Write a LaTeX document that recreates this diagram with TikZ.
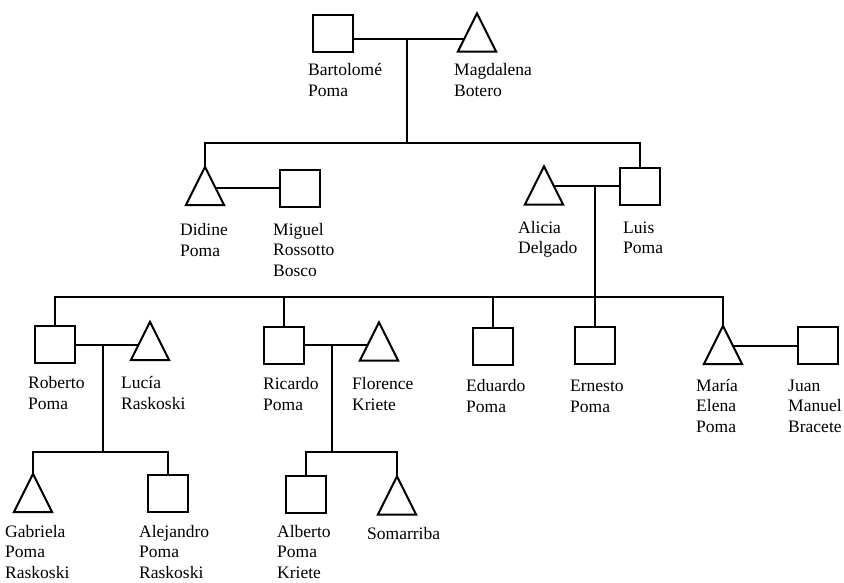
\documentclass[tikz,border=0pt]{standalone}
\usepackage{fontspec}
\setmainfont{Liberation Serif}
\usetikzlibrary{calc}

\tikzset{
  tie/.style={line width=2pt},
  male/.style={tie, draw, fill=white, minimum width=40pt, minimum height=37pt, inner sep=0pt},
  fem/.style={minimum width=38pt, minimum height=38pt, inner sep=0pt},
  % labels are placed by the baseline of their last line
  who/.style={anchor=base west, align=left, inner sep=0pt, font=\fontsize{17.5}{20.5}\selectfont}
}

\begin{document}
\begin{tikzpicture}[x=1pt,y=-1pt]
  \useasboundingbox (0,0) rectangle (844,583);
  % first generation
  \node[male] (bart) at (333,33.5) {};
  \node[fem] (mag) at (477,32.5) {};
  \node[who] (bart-t) at (308,96.5) {Bartolomé\\Poma};
  \node[who] (mag-t) at (454,96.5) {Magdalena\\Botero};
  % second generation
  \node[fem] (did) at (205,186) {};
  \node[male] (mig) at (300,188.5) {};
  \node[fem] (ali) at (544,185.5) {};
  \node[male] (luis) at (640,186.5) {};
  \node[who] (did-t) at (180,256) {Didine\\Poma};
  \node[who] (mig-t) at (273,276) {Miguel\\Rossotto\\Bosco};
  \node[who] (ali-t) at (518,254) {Alicia\\Delgado};
  \node[who] (luis-t) at (623,254) {Luis\\Poma};
  % third generation
  \node[male] (rob) at (55,344.5) {};
  \node[fem] (luc) at (150,341) {};
  \node[male] (ric) at (283.5,345) {};
  \node[fem] (flo) at (379,341.5) {};
  \node[male] (edu) at (492.5,346) {};
  \node[male] (ern) at (595,345.5) {};
  \node[fem] (mar) at (723,345) {};
  \node[male] (juan) at (818,345.5) {};
  \node[who] (rob-t) at (28,409) {Roberto\\Poma};
  \node[who] (luc-t) at (121,409) {Lucía\\Raskoski};
  \node[who] (ric-t) at (263,410) {Ricardo\\Poma};
  \node[who] (flo-t) at (352,410) {Florence\\Kriete};
  \node[who] (edu-t) at (466,412) {Eduardo\\Poma};
  \node[who] (ern-t) at (570,412) {Ernesto\\Poma};
  \node[who] (mar-t) at (696,432) {María\\Elena\\Poma};
  \node[who] (juan-t) at (788,432) {Juan\\Manuel\\Bracete};
  % fourth generation
  \node[fem] (gab) at (33,493) {};
  \node[male] (ale) at (168,493.5) {};
  \node[male] (alb) at (305.5,494.5) {};
  \node[fem] (som) at (397,495.5) {};
  \node[who] (gab-t) at (5,578) {Gabriela\\Poma\\Raskoski};
  \node[who] (ale-t) at (139,578) {Alejandro\\Poma\\Raskoski};
  \node[who] (alb-t) at (277,578) {Alberto\\Poma\\Kriete};
  \node[who] (som-t) at (367,539) {Somarriba};
  % couples
  \draw[tie] ([yshift=-5.5pt]bart.east) -- ([yshift=-5.5pt]bart.east -| mag);
  \draw[tie] (mig.west) -- (mig.west -| did);
  \draw[tie] (luis.west) -- (luis.west -| ali);
  \draw[tie] (rob.east) -- (rob.east -| luc);
  \draw[tie] (ric.east) -- (ric.east -| flo);
  \draw[tie] (juan.west) -- (juan.west -| mar);
  % descent lines
  \coordinate (c1) at (407,39); \coordinate (b1) at (0,143);
  \draw[tie] (c1) -- (c1 |- b1);
  \draw[tie] (did.north) -- (did.north |- b1) -- (luis.north |- b1) -- (luis.north);
  \coordinate (c2) at (595,186.5); \coordinate (b2) at (0,297);
  \draw[tie] (c2) -- (c2 |- b2);
  \draw[tie] (rob.north) -- (rob.north |- b2) -- (mar.north |- b2) -- (mar.north);
  \foreach \n in {ric,edu,ern} \draw[tie] (\n.north) -- (\n.north |- b2);
  \coordinate (c3) at (103,344.5); \coordinate (b3) at (0,452);
  \draw[tie] (c3) -- (c3 |- b3);
  \draw[tie] (gab.north) -- (gab.north |- b3) -- (ale.north |- b3) -- (ale.north);
  \coordinate (c4) at (332,345);
  \draw[tie] (c4) -- (c4 |- b3);
  \draw[tie] (alb.north) -- (alb.north |- b3) -- (som.north |- b3) -- (som.north);
  % triangles over the lines
  \foreach \n in {mag,did,ali,luc,flo,mar,gab,som}
    \draw[tie,fill=white] (\n.south west) -- (\n.north) -- (\n.south east) -- cycle;
\end{tikzpicture}
\end{document}
